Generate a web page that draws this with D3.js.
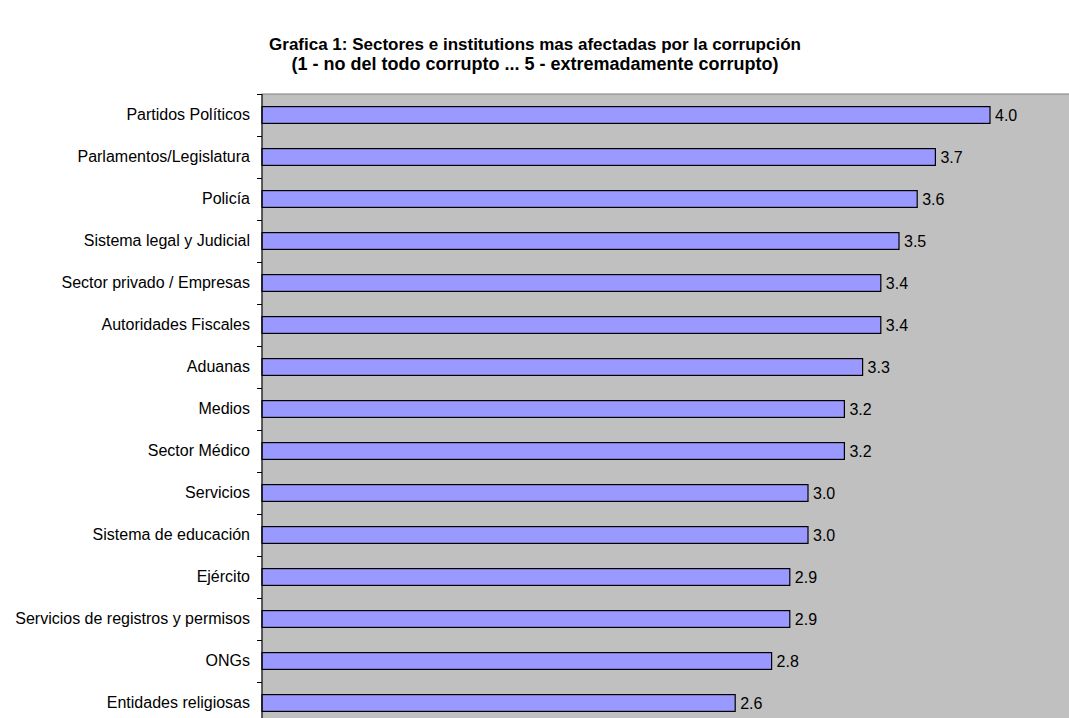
<!DOCTYPE html>
<html>
<head>
<meta charset="utf-8">
<script src="https://cdn.jsdelivr.net/npm/d3@7"></script>
<style>
  body { margin: 0; background: #fff; }
  svg { display: block; font-family: "Liberation Sans", Arial, sans-serif; }
  .cats text { font-size: 16px; fill: #000; }
  .val { font-size: 16px; fill: #000; }
  .title { font-weight: bold; fill: #000; }
</style>
</head>
<body>
<div id="chart"></div>
<script>
(function () {

    var categories = ["Partidos Políticos", "Parlamentos/Legislatura", "Policía", "Sistema legal y Judicial",
        "Sector privado / Empresas", "Autoridades Fiscales", "Aduanas", "Medios", "Sector Médico",
        "Servicios", "Sistema de educación", "Ejército", "Servicios de registros y permisos",
        "ONGs", "Entidades religiosas"];
    var values = [4.0, 3.7, 3.6, 3.5, 3.4, 3.4, 3.3, 3.2, 3.2, 3.0, 3.0, 2.9, 2.9, 2.8, 2.6];
    var titleLines = ["Grafica 1: Sectores e institutions mas afectadas por la corrupción",
        "(1 - no del todo corrupto ... 5 - extremadamente corrupto)"];

    var width = 1069, height = 718;
    var margin = { top: 94, left: 262 };

    var svg = d3.select("#chart").append("svg")
        .attr("width", width)
        .attr("height", height);

    //SCALES
    var x = d3.scaleLinear().domain([0, 5]).range([margin.left, margin.left + 5 * 182]);
    var y = d3.scaleBand().domain(categories)
        .range([margin.top, margin.top + categories.length * 42])
        .paddingInner(0.6).paddingOuter(0.3);
    var yTick = d3.scaleLinear().domain([0, categories.length])
        .range([margin.top, margin.top + categories.length * 42]);

    //PLOT AREA
    svg.append("rect")
        .attr("x", x(0))
        .attr("y", margin.top)
        .attr("width", x(5) - x(0))
        .attr("height", categories.length * 42)
        .attr("fill", "#c0c0c0")
        .attr("stroke", "#808080")
        .attr("stroke-width", 1);

    //BARS
    svg.selectAll(".bar")
        .data(values)
        .enter().append("rect")
        .attr("class", "bar")
        .attr("x", x(0))
        .attr("y", function (d, i) { return y(categories[i]); })
        .attr("width", function (d) { return x(d) - x(0); })
        .attr("height", y.bandwidth())
        .attr("fill", "#9999ff")
        .attr("stroke", "#000")
        .attr("stroke-width", 1.2);

    //VALUE LABELS
    svg.selectAll(".val")
        .data(values)
        .enter().append("text")
        .attr("class", "val")
        .attr("x", function (d) { return x(d) + 5; })
        .attr("y", function (d, i) { return y(categories[i]) + y.bandwidth() / 2; })
        .attr("dy", "0.35em")
        .text(function (d) { return d.toFixed(1); });

    //Y TICKS
    svg.append("g")
        .attr("transform", "translate(" + x(0) + ",0)")
        .call(d3.axisLeft(yTick).ticks(categories.length).tickSize(5).tickFormat(""))
        .call(function (g) {
            g.selectAll("line, path").attr("stroke", "#000");
            g.select(".domain").remove();
        });
    svg.append("line")
        .attr("x1", x(0)).attr("x2", x(0))
        .attr("y1", margin.top).attr("y2", height)
        .attr("stroke", "#000");

    //CATEGORY LABELS
    svg.append("g")
        .attr("class", "cats")
        .attr("transform", "translate(" + x(0) + ",0)")
        .call(d3.axisLeft(y).tickSize(0).tickPadding(12))
        .call(function (g) {
            g.select(".domain").remove();
            g.selectAll("text").attr("font-family", null).attr("font-size", null);
        });

    //TITLE
    svg.selectAll(".title")
        .data(titleLines)
        .enter().append("text")
        .attr("class", "title")
        .attr("x", 535)
        .attr("y", function (d, i) { return 50 + i * 20; })
        .attr("font-size", function (d, i) { return i === 0 ? 17 : 18; })
        .attr("text-anchor", "middle")
        .text(function (d) { return d; });

})();
</script>
</body>
</html>
